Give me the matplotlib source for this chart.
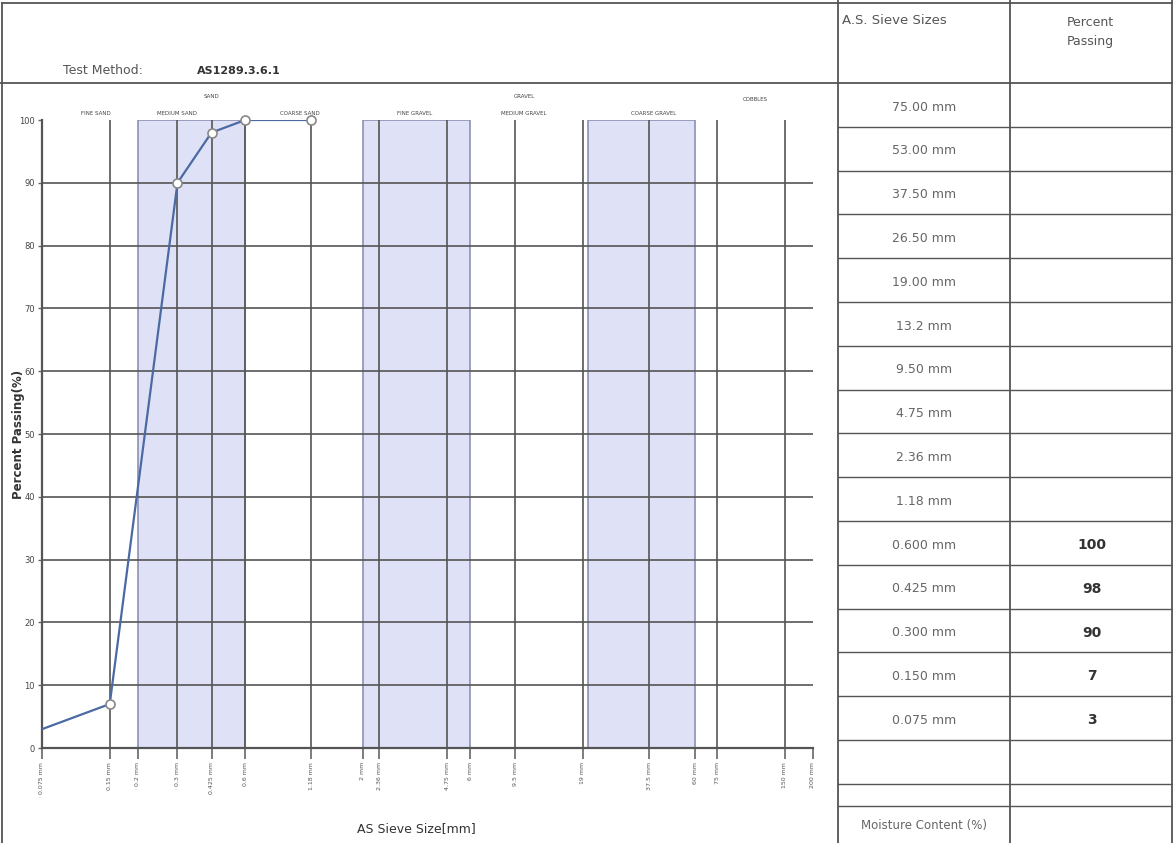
import matplotlib
matplotlib.use('Agg')
import matplotlib.pyplot as plt
from matplotlib.ticker import FixedLocator, NullLocator
import matplotlib.transforms as mtransforms

# sieve results plotted on the grading curve
plot_sizes = [0.075, 0.15, 0.3, 0.425, 0.6, 1.18]
plot_passing = [3, 7, 90, 98, 100, 100]

# tabulated sieve list and results
table_sizes = ['75.00 mm', '53.00 mm', '37.50 mm', '26.50 mm', '19.00 mm', '13.2 mm',
               '9.50 mm', '4.75 mm', '2.36 mm', '1.18 mm', '0.600 mm', '0.425 mm',
               '0.300 mm', '0.150 mm', '0.075 mm']
table_passing = ['', '', '', '', '', '', '', '', '', '', '100', '98', '90', '7', '3']

# axis ticks, grid and soil classification bands
tick_sizes = [0.075, 0.15, 0.2, 0.3, 0.425, 0.6, 1.18, 2.0, 2.36, 4.75, 6.0, 9.5,
              19.0, 37.5, 60, 75, 150, 200]
grid_sizes = [0.15, 0.3, 0.425, 0.6, 1.18, 2.36, 4.75, 9.5, 19.0, 37.5, 75, 150]
bands = [(0.2, 0.6), (2.0, 6.0), (20, 60)]
zone_labels = [('FINE SAND', 0.13, 1.011), ('SAND', 0.425, 1.037), ('MEDIUM SAND', 0.30, 1.011),
               ('COARSE SAND', 1.05, 1.011), ('FINE GRAVEL', 3.4, 1.011),
               ('GRAVEL', 10.4, 1.037), ('MEDIUM GRAVEL', 10.4, 1.011),
               ('COARSE GRAVEL', 39, 1.011), ('COBBLES', 111, 1.032)]

W, H = 1173, 843
narrow = ['Liberation Sans Narrow', 'DejaVu Sans Condensed', 'DejaVu Sans']
sheet = ['DejaVu Sans']

fig = plt.figure(figsize=(W / 100, H / 100), dpi=100)

# form frame drawn in pixel units
frame = fig.add_axes([0, 0, 1, 1])
frame.set_xlim(0, W)
frame.set_ylim(H, 0)
frame.axis('off')
line_kw = dict(color='#555555', lw=1.3)
frame.plot([2, 2], [3, H], **line_kw)
frame.plot([2, W], [3, 3], **line_kw)
frame.plot([0, W], [83, 83], **line_kw)
frame.plot([838, 838], [0, H], **line_kw)
frame.plot([1010, 1010], [0, H], **line_kw)
frame.plot([W - 1, W - 1], [0, H], **line_kw)

row_top = 83
row_h = 43.8
for i in range(len(table_sizes) + 1):
    y = row_top + (i + 1) * row_h
    frame.plot([838, W], [y, y], color='#555555', lw=1.0)
frame.plot([838, W], [806, 806], color='#555555', lw=1.0)

frame.text(842, 20, 'A.S. Sieve Sizes', fontsize=9.5, color='#555555', family=sheet, va='center')
frame.text(1090, 32, 'Percent\nPassing', fontsize=9, color='#555555', family=sheet,
           ha='center', va='center', linespacing=1.6)
for i, (s, p) in enumerate(zip(table_sizes, table_passing)):
    yc = row_top + (i + 0.55) * row_h
    frame.text(924, yc, s, fontsize=9, color='#666666', family=sheet, ha='center', va='center')
    if p:
        frame.text(1092, yc, p, fontsize=10, color='#333333', family=sheet,
                   ha='center', va='center', fontweight='bold')
frame.text(924, 826, 'Moisture Content (%)', fontsize=8.5, color='#666666', family=sheet,
           ha='center', va='center')

frame.text(63, 70, 'Test Method:', fontsize=9, color='#555555', family=sheet, va='center')
frame.text(197, 71, 'AS1289.3.6.1', fontsize=8, color='#333333', family=sheet,
           va='center', fontweight='bold')

# grading chart
ax = fig.add_axes([42 / W, 1 - 748 / H, (813 - 42) / W, 628 / H])
ax.patch.set_alpha(0)
ax.set_xscale('log')
ax.set_xlim(0.075, 200)
ax.set_ylim(0, 100)

for lo, hi in bands:
    ax.fill_between([lo, hi], 0, 100, facecolor='#dfe2f6', edgecolor='#8d91b3', lw=1.2, zorder=1)

for y in range(10, 100, 10):
    ax.plot([0.075, 200], [y, y], color='#555555', lw=1.2, zorder=2)
for x in grid_sizes:
    ax.plot([x, x], [0, 100], color='#555555', lw=1.2, zorder=2)

ax.plot(plot_sizes, plot_passing, color='#4b6aa3', lw=1.6, zorder=3)
ax.plot(plot_sizes[1:], plot_passing[1:], 'o', ms=6.5, mfc='white', mec='#888888',
        mew=1.2, zorder=4, clip_on=False)

for side in ['top', 'right']:
    ax.spines[side].set_visible(False)
for side in ['left', 'bottom']:
    ax.spines[side].set_color('#555555')
    ax.spines[side].set_linewidth(1.6)

ax.xaxis.set_major_locator(FixedLocator(tick_sizes))
ax.xaxis.set_minor_locator(NullLocator())
ax.set_xticklabels(['%g mm' % s for s in tick_sizes], rotation=90, fontsize=4.5,
                   color='#555555', family=narrow)
ax.tick_params(axis='x', length=8, width=1.2, color='#666666', pad=2)
ax.set_yticks(range(0, 101, 10))
ax.set_yticklabels([str(v) for v in range(0, 101, 10)], fontsize=6, color='#444444', family=narrow)
ax.tick_params(axis='y', length=3, width=1, color='#666666', pad=2)

ax.set_xlabel('AS Sieve Size[mm]', fontsize=9, color='#333333', family=narrow)
ax.xaxis.set_label_coords(0.485, -0.118)
ax.set_ylabel('Percent Passing(%)', fontsize=8.5, color='#333333', fontweight='bold',
              family=sheet)
ax.yaxis.set_label_coords(-0.022, 0.5)

trans = mtransforms.blended_transform_factory(ax.transData, ax.transAxes)
for name, x, y in zone_labels:
    ax.text(x, y, name, transform=trans, fontsize=4, color='#444444', family=narrow,
            ha='center', va='center')

fig.savefig('out.png', dpi=100)
